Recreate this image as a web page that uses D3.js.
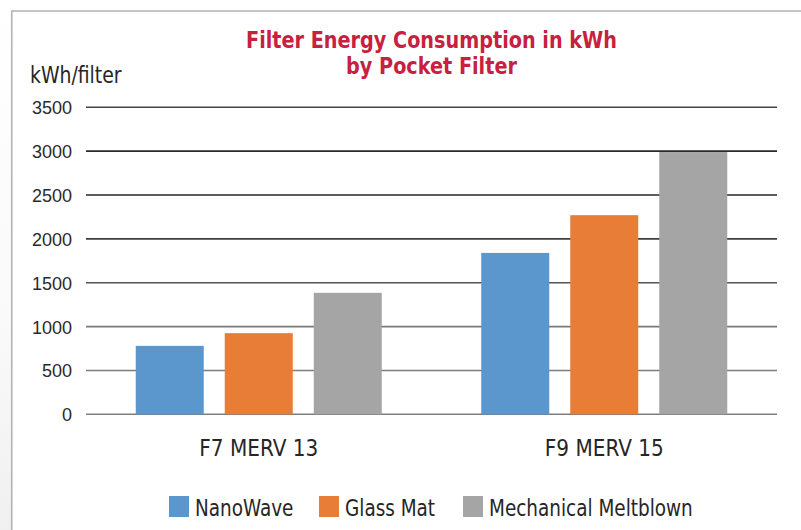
<!DOCTYPE html>
<html><head><meta charset="utf-8">
<script src="https://cdn.jsdelivr.net/npm/d3@7"></script>
<style>
html,body{margin:0;padding:0;background:#fff;}
svg{display:block;}
</style></head>
<body>
<script>
const categories = ["F7 MERV 13", "F9 MERV 15"];
const seriesNames = ["NanoWave", "Glass Mat", "Mechanical Meltblown"];
const nanoWave = [780, 1840];
const glassMat = [925, 2270];
const meltblown = [1385, 2990];
const yTicks = [0, 500, 1000, 1500, 2000, 2500, 3000, 3500];
const titleLines = ["Filter Energy Consumption in kWh", "by Pocket Filter"];
const yLabel = "kWh/filter";

const W = 801, H = 530;
const colors = ["#5b96cc", "#e87d37", "#a5a5a5"];
const series = [nanoWave, glassMat, meltblown];
const condensed = "'DejaVu Sans Condensed', 'DejaVu Sans', sans-serif";

const svg = d3.select("body").append("svg").attr("width", W).attr("height", H);

const defs = svg.append("defs");
const lg = defs.append("linearGradient").attr("id", "bgl").attr("x1", 0).attr("y1", 0).attr("x2", 0).attr("y2", 1);
lg.append("stop").attr("offset", 0).attr("stop-color", "#ffffff");
lg.append("stop").attr("offset", 0.6).attr("stop-color", "#fafafa");
lg.append("stop").attr("offset", 1).attr("stop-color", "#f0f0f0");
svg.append("rect").attr("x", 0).attr("y", 0).attr("width", 12).attr("height", H).attr("fill", "url(#bgl)");

svg.append("path").attr("d", `M11.75,${H} L11.75,11 L${W},11`)
  .attr("fill", "none").attr("stroke", "#b3b3b3").attr("stroke-width", 1.6);

const x0 = d3.scaleBand().domain(categories).range([86, 777]).paddingInner(0).paddingOuter(0);
const groupPad = 49.75;
const x1 = d3.scaleBand().domain(seriesNames)
  .range([groupPad, x0.bandwidth() - groupPad]).paddingInner(0.236).paddingOuter(0);
const y = d3.scaleLinear().domain([0, 3500]).range([414.3, 107.3]);

const gridColor = d3.scaleLinear().domain([0, 1000, 1500, 2500, 3000, 3500])
  .range(["#7f7f7f", "#7a7a7a", "#555555", "#262626", "#2a2a2a", "#444444"]);
const yAxis = d3.axisLeft(y).tickValues(yTicks).tickSize(0).tickPadding(0).tickFormat(d3.format("d"));
const gAxis = svg.append("g").attr("transform", "translate(86,0)").call(yAxis);
gAxis.select(".domain").remove();
gAxis.selectAll(".tick line").remove();
gAxis.selectAll(".tick text")
  .attr("x", -14).attr("dy", "0.36em")
  .attr("font-family", "'Liberation Sans', Arial, sans-serif")
  .attr("font-size", 18).attr("fill", "#2a2a2a");

svg.append("g").selectAll("line").data(yTicks).join("line")
  .attr("x1", 86).attr("x2", 777)
  .attr("y1", d => y(d)).attr("y2", d => y(d))
  .attr("stroke", d => gridColor(d)).attr("stroke-width", 1.6);

const groups = svg.append("g").selectAll("g").data(categories).join("g")
  .attr("transform", c => `translate(${x0(c)},0)`);
groups.selectAll("rect").data((c, ci) => seriesNames.map((s, si) => ({s, si, v: series[si][ci]})))
  .join("rect")
  .attr("x", d => x1(d.s)).attr("width", x1.bandwidth())
  .attr("y", d => y(d.v)).attr("height", d => y(0) - y(d.v))
  .attr("fill", d => colors[d.si]);

// category labels (condensed by horizontal scaling)
svg.append("g").selectAll("text").data(categories).join("text")
  .attr("transform", c => `translate(${x0(c) + x0.bandwidth() / 2},456) scale(0.97,1)`)
  .attr("text-anchor", "middle")
  .attr("font-family", condensed).attr("font-size", 23).attr("fill", "#262626")
  .text(c => c);

// title
svg.append("text").attr("transform", "translate(431.5,48) scale(0.95,1)")
  .attr("text-anchor", "middle").attr("font-family", condensed)
  .attr("font-weight", "bold").attr("font-size", 22.5).attr("fill", "#c8203f")
  .selectAll("tspan").data(titleLines).join("tspan")
  .attr("x", 0).attr("dy", (d, i) => i === 0 ? 0 : 26).text(d => d);

// y label
svg.append("text").attr("transform", "translate(30,83) scale(0.91,1)")
  .attr("font-family", condensed).attr("font-size", 23).attr("fill", "#262626")
  .text(yLabel);

// legend
const legendX = [169, 319, 463];
const lgG = svg.append("g").selectAll("g").data(seriesNames).join("g")
  .attr("transform", (d, i) => `translate(${legendX[i]},496)`);
lgG.append("rect").attr("width", 20).attr("height", 21).attr("fill", (d, i) => colors[i]);
lgG.append("text").attr("transform", "translate(26,20) scale(0.91,1)")
  .attr("font-family", condensed).attr("font-size", 22.5).attr("fill", "#262626")
  .text(d => d);
</script>
</body></html>
